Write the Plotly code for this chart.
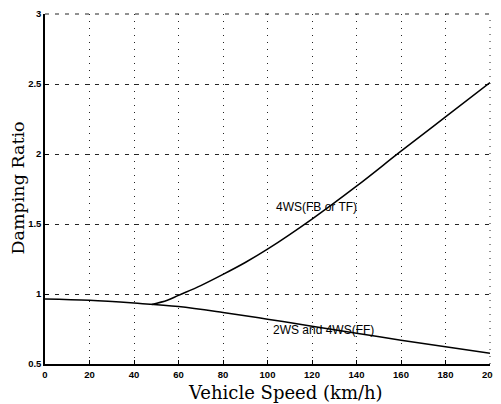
import plotly.graph_objects as go

# Data
speed_2ws = [0, 20, 40, 60, 80, 100, 120, 140, 160, 180, 200]
ratio_2ws = [0.965, 0.955, 0.935, 0.91, 0.868, 0.82, 0.77, 0.72, 0.67, 0.623, 0.576]

speed_4ws = [48, 55, 60, 70, 80, 90, 100, 120, 140, 160, 180, 200]
ratio_4ws = [0.925, 0.955, 0.99, 1.06, 1.14, 1.225, 1.32, 1.535, 1.77, 2.02, 2.265, 2.51]

x_ticks = [0, 20, 40, 60, 80, 100, 120, 140, 160, 180, 200]
y_ticks = [0.5, 1, 1.5, 2, 2.5, 3]
y_tick_text = ["0.5", "1", "1.5", "2", "2.5", "3"]

label_4ws = "4WS(FB or TF)"
label_2ws = "2WS and 4WS(FF)"

# page body has an 8px margin, so the figure is made 8px smaller
W, H = 493, 396
L, R, T, B = 37, 11, 6, 40
pw, ph = W - L - R, H - T - B

fig = go.Figure()
fig.add_trace(go.Scatter(x=speed_2ws, y=ratio_2ws, mode="lines", line_shape="spline",
                         line=dict(color="black", width=1.5), showlegend=False))
fig.add_trace(go.Scatter(x=speed_4ws, y=ratio_4ws, mode="lines", line_shape="spline",
                         line=dict(color="black", width=1.5), showlegend=False))

tickfont = dict(family="Liberation Sans, Arial", size=9.5, color="black", weight="bold")
fig.update_layout(
    template="none",
    width=W, height=H,
    margin=dict(l=L, r=R, t=T, b=B, autoexpand=False),
    paper_bgcolor="white", plot_bgcolor="white",
    xaxis=dict(range=[0, 200], tickvals=x_ticks, ticks="inside", ticklen=4,
               tickcolor="black", tickfont=tickfont, automargin=False,
               ticklabelstandoff=1,
               showgrid=True, gridcolor="#222", gridwidth=1, griddash="1px,6px",
               showline=True, linecolor="black", linewidth=1.5, zeroline=False,
               mirror=False),
    yaxis=dict(range=[0.5, 3], tickvals=y_ticks, ticktext=y_tick_text,
               ticks="inside", ticklen=4, tickcolor="black", tickfont=tickfont,
               automargin=False,
               showgrid=True, gridcolor="#222", gridwidth=1, griddash="4px,6px",
               showline=True, linecolor="black", linewidth=1.5, zeroline=False),
    font=dict(family="Liberation Sans, Arial", color="black"),
)

# frame-edge grid lines (top dashed, right dotted)
fig.add_shape(type="line", xref="paper", yref="paper", x0=0, x1=1, y0=1, y1=1,
              line=dict(color="#222", width=1, dash="4px,6px"))
fig.add_shape(type="line", xref="paper", yref="paper", x0=1, x1=1, y0=0, y1=1,
              line=dict(color="#222", width=1, dash="1px,6px"))

# axis titles as annotations (positions relative to the plot area)
fig.add_annotation(x=(17.5 - 45) / pw, y=(364 - 188) / ph, xref="paper", yref="paper",
                   xanchor="center", yanchor="middle",
                   text="Damping Ratio", textangle=-90, showarrow=False,
                   font=dict(family="DejaVu Serif", size=17.5, color="black"))
fig.add_annotation(x=(285 - 45) / pw, y=-(392 - 364) / ph, xref="paper", yref="paper",
                   xanchor="center", yanchor="middle",
                   text="Vehicle Speed (km/h)", showarrow=False,
                   font=dict(family="DejaVu Serif", size=18, color="black"))

# curve labels
fig.add_annotation(x=122, y=1.62, text=label_4ws, showarrow=False,
                   xanchor="center", yanchor="middle",
                   font=dict(family="Liberation Sans, Arial", size=12, color="black"))
fig.add_annotation(x=125, y=0.74, text=label_2ws, showarrow=False,
                   xanchor="center", yanchor="middle",
                   font=dict(family="Liberation Sans, Arial", size=12, color="black"))

fig.write_html("out.html")
